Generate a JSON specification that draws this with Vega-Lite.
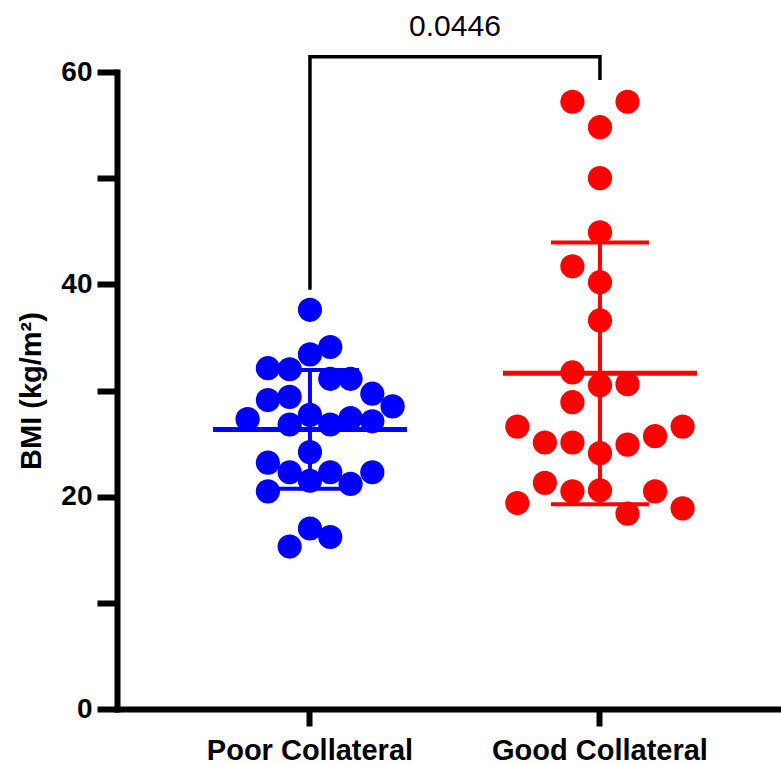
{
  "$schema": "https://vega.github.io/schema/vega-lite/v6.json",
  "autosize": "none",
  "padding": {"left": 117, "top": 72, "right": 0, "bottom": 56},
  "width": 664,
  "height": 637,
  "background": "white",
  "config": {
    "view": {"stroke": null},
    "font": "Liberation Sans"
  },
  "datasets": {
    "bmi": [
      {"group": "Poor Collateral", "jitter": 0, "bmi": 37.6},
      {"group": "Poor Collateral", "jitter": 0.14, "bmi": 34.1},
      {"group": "Poor Collateral", "jitter": 0, "bmi": 33.4},
      {"group": "Poor Collateral", "jitter": -0.29, "bmi": 32.1},
      {"group": "Poor Collateral", "jitter": -0.14, "bmi": 32.0},
      {"group": "Poor Collateral", "jitter": 0.14, "bmi": 31.1},
      {"group": "Poor Collateral", "jitter": 0.28, "bmi": 31.1},
      {"group": "Poor Collateral", "jitter": 0.43, "bmi": 29.7},
      {"group": "Poor Collateral", "jitter": 0.57, "bmi": 28.5},
      {"group": "Poor Collateral", "jitter": -0.29, "bmi": 29.1},
      {"group": "Poor Collateral", "jitter": -0.14, "bmi": 29.4},
      {"group": "Poor Collateral", "jitter": -0.43, "bmi": 27.3},
      {"group": "Poor Collateral", "jitter": 0, "bmi": 27.7},
      {"group": "Poor Collateral", "jitter": -0.14, "bmi": 26.8},
      {"group": "Poor Collateral", "jitter": 0.14, "bmi": 26.8},
      {"group": "Poor Collateral", "jitter": 0.28, "bmi": 27.4},
      {"group": "Poor Collateral", "jitter": 0.43, "bmi": 27.1},
      {"group": "Poor Collateral", "jitter": 0, "bmi": 24.2},
      {"group": "Poor Collateral", "jitter": -0.29, "bmi": 23.2},
      {"group": "Poor Collateral", "jitter": -0.14, "bmi": 22.3},
      {"group": "Poor Collateral", "jitter": 0.14, "bmi": 22.3},
      {"group": "Poor Collateral", "jitter": 0.43, "bmi": 22.3},
      {"group": "Poor Collateral", "jitter": 0, "bmi": 21.5},
      {"group": "Poor Collateral", "jitter": 0.28, "bmi": 21.2},
      {"group": "Poor Collateral", "jitter": -0.29, "bmi": 20.5},
      {"group": "Poor Collateral", "jitter": 0, "bmi": 17.0},
      {"group": "Poor Collateral", "jitter": 0.14, "bmi": 16.2},
      {"group": "Poor Collateral", "jitter": -0.14, "bmi": 15.3},
      {"group": "Good Collateral", "jitter": -0.19, "bmi": 57.2},
      {"group": "Good Collateral", "jitter": 0.19, "bmi": 57.2},
      {"group": "Good Collateral", "jitter": 0, "bmi": 54.8},
      {"group": "Good Collateral", "jitter": 0, "bmi": 50.0},
      {"group": "Good Collateral", "jitter": 0, "bmi": 44.9},
      {"group": "Good Collateral", "jitter": -0.19, "bmi": 41.7},
      {"group": "Good Collateral", "jitter": 0, "bmi": 40.2},
      {"group": "Good Collateral", "jitter": 0, "bmi": 36.6},
      {"group": "Good Collateral", "jitter": -0.19, "bmi": 31.7},
      {"group": "Good Collateral", "jitter": 0, "bmi": 30.5},
      {"group": "Good Collateral", "jitter": 0.19, "bmi": 30.6},
      {"group": "Good Collateral", "jitter": -0.19, "bmi": 28.9},
      {"group": "Good Collateral", "jitter": -0.57, "bmi": 26.6},
      {"group": "Good Collateral", "jitter": 0.57, "bmi": 26.6},
      {"group": "Good Collateral", "jitter": -0.38, "bmi": 25.1},
      {"group": "Good Collateral", "jitter": -0.19, "bmi": 25.1},
      {"group": "Good Collateral", "jitter": 0.19, "bmi": 24.9},
      {"group": "Good Collateral", "jitter": 0.38, "bmi": 25.7},
      {"group": "Good Collateral", "jitter": 0, "bmi": 24.1},
      {"group": "Good Collateral", "jitter": -0.38, "bmi": 21.3},
      {"group": "Good Collateral", "jitter": -0.19, "bmi": 20.5},
      {"group": "Good Collateral", "jitter": 0, "bmi": 20.6},
      {"group": "Good Collateral", "jitter": 0.38, "bmi": 20.5},
      {"group": "Good Collateral", "jitter": -0.57, "bmi": 19.4},
      {"group": "Good Collateral", "jitter": 0.57, "bmi": 18.9},
      {"group": "Good Collateral", "jitter": 0.19, "bmi": 18.4}
    ],
    "bracket": [
      {"group": "Poor Collateral", "bmi": 39.5, "step": 1},
      {"group": "Poor Collateral", "bmi": 61.44, "step": 2},
      {"group": "Good Collateral", "bmi": 61.44, "step": 3},
      {"group": "Good Collateral", "bmi": 59.24, "step": 4}
    ],
    "pvalue": [
      {"group": "Poor Collateral", "jitter": 1, "bmi": 63.4, "label": "0.0446"}
    ]
  },
  "encoding": {
    "x": {
      "field": "group",
      "type": "nominal",
      "sort": ["Poor Collateral", "Good Collateral"],
      "scale": {"paddingInner": 0, "paddingOuter": 0.1448, "align": 0.571},
      "axis": {
        "title": null,
        "labelAngle": 0,
        "labelLimit": 0,
        "labelFont": "Liberation Sans",
        "labelFontSize": 29,
        "labelFontWeight": "bold",
        "labelColor": "black",
        "labelPadding": 10,
        "domainColor": "black",
        "domainWidth": 6,
        "domainCap": "square",
        "tickColor": "black",
        "tickWidth": 6,
        "tickSize": 17
      }
    },
    "y": {
      "field": "bmi",
      "type": "quantitative",
      "scale": {"domain": [0, 60], "nice": false, "zero": true},
      "axis": {
        "title": "BMI (kg/m²)",
        "titleFont": "Liberation Sans",
        "titleFontSize": 29,
        "titleFontWeight": "bold",
        "titleColor": "black",
        "titlePadding": 14,
        "values": [0, 10, 20, 30, 40, 50, 60],
        "labelExpr": "datum.value % 20 === 0 ? datum.label : ''",
        "labelLimit": 0,
        "labelFont": "Liberation Sans",
        "labelFontSize": 28,
        "labelFontWeight": "bold",
        "labelColor": "black",
        "labelPadding": 5,
        "grid": false,
        "domainColor": "black",
        "domainWidth": 6,
        "domainCap": "square",
        "tickColor": "black",
        "tickWidth": 6,
        "tickSize": 20
      }
    }
  },
  "layer": [
    {
      "data": {"name": "bmi"},
      "mark": {"type": "circle", "size": 585, "opacity": 1},
      "encoding": {
        "xOffset": {"field": "jitter", "type": "quantitative", "scale": {"domain": [-1, 1]}},
        "color": {
          "field": "group",
          "type": "nominal",
          "scale": {"domain": ["Poor Collateral", "Good Collateral"], "range": ["#0000FF", "#FF0000"]},
          "legend": null
        }
      }
    },
    {
      "data": {"name": "bmi"},
      "mark": {
        "type": "errorbar",
        "extent": "stdev",
        "ticks": {"size": 98, "thickness": 4, "opacity": 1},
        "rule": {"strokeWidth": 4, "opacity": 1}
      },
      "encoding": {
        "color": {"field": "group", "type": "nominal", "legend": null}
      }
    },
    {
      "data": {"name": "bmi"},
      "mark": {"type": "tick", "size": 194, "thickness": 5, "opacity": 1},
      "encoding": {
        "y": {"aggregate": "mean", "field": "bmi", "type": "quantitative"},
        "color": {"field": "group", "type": "nominal", "legend": null}
      }
    },
    {
      "data": {"name": "bracket"},
      "mark": {"type": "line", "color": "black", "strokeWidth": 3.5, "clip": false},
      "encoding": {
        "order": {"field": "step", "type": "quantitative"}
      }
    },
    {
      "data": {"name": "pvalue"},
      "mark": {"type": "text", "font": "Liberation Sans", "fontSize": 30, "color": "black", "baseline": "alphabetic", "align": "center"},
      "encoding": {
        "xOffset": {"field": "jitter", "type": "quantitative"},
        "text": {"field": "label"}
      }
    }
  ]
}
